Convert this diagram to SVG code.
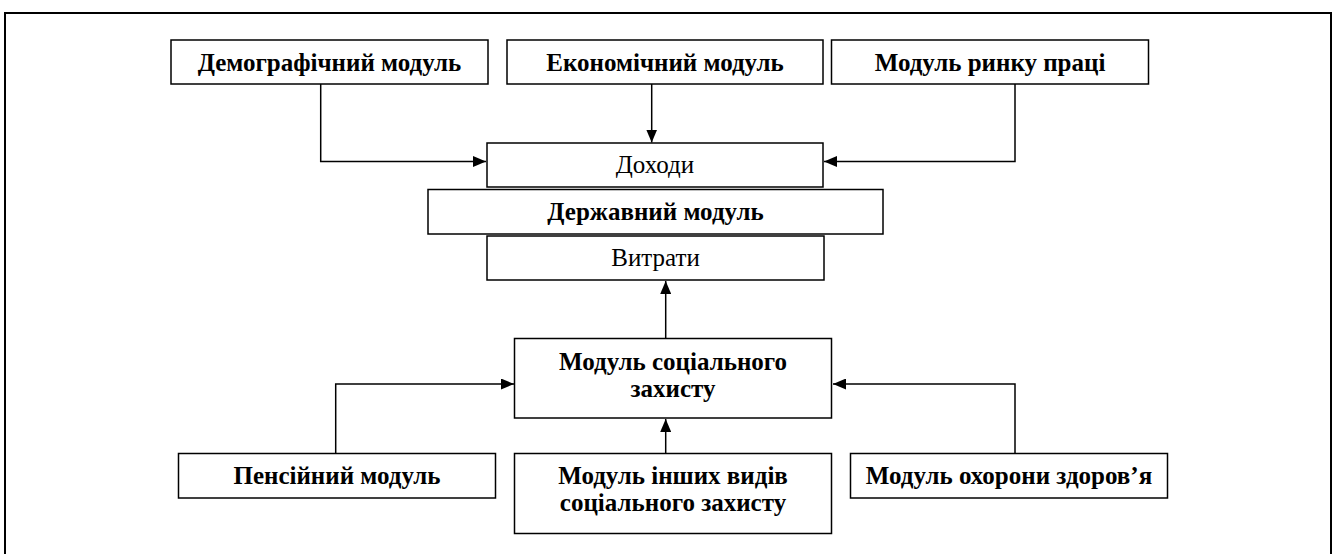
<svg xmlns="http://www.w3.org/2000/svg" width="1336" height="554" viewBox="0 0 1336 554">
<style>
.box{fill:#fff;stroke:#000;stroke-width:1.5}
.t{font-family:"Liberation Serif","Times New Roman",serif;font-size:25px;text-anchor:middle;fill:#000}
.b{font-weight:bold}
.c{fill:none;stroke:#000;stroke-width:1.5}
</style>
<defs>
<marker id="ah" markerUnits="userSpaceOnUse" markerWidth="13" markerHeight="11" refX="13" refY="5.5" orient="auto">
<path d="M0,0 L13,5.5 L0,11 z" fill="#000"/>
</marker>
</defs>
<rect width="1336" height="554" fill="#fff"/>
<rect x="5" y="13" width="1326" height="580" fill="none" stroke="#000" stroke-width="2"/>
<g id="connectors">
<path class="c" d="M320.7,84 V161.5 H486" marker-end="url(#ah)"/>
<path class="c" d="M651.7,84 V142.5" marker-end="url(#ah)"/>
<path class="c" d="M1015,84 V161.5 H824" marker-end="url(#ah)"/>
<path class="c" d="M665.7,338 V281" marker-end="url(#ah)"/>
<path class="c" d="M335.7,453 V384 H514" marker-end="url(#ah)"/>
<path class="c" d="M665.7,453 V419" marker-end="url(#ah)"/>
<path class="c" d="M1015,453 V384 H833" marker-end="url(#ah)"/>
</g>
<g id="demographic"><rect class="box" x="171" y="40" width="317" height="44"/><text class="t b" x="329.5" y="71">Демографічний модуль</text></g>
<g id="economic"><rect class="box" x="507" y="40" width="316" height="44"/><text class="t b" x="665" y="71">Економічний модуль</text></g>
<g id="labor"><rect class="box" x="831.5" y="40" width="317" height="44"/><text class="t b" x="990" y="71">Модуль ринку праці</text></g>
<g id="income"><rect class="box" x="487" y="143" width="336" height="44"/><text class="t" x="655" y="173">Доходи</text></g>
<g id="state"><rect class="box" x="428" y="189.5" width="455" height="44.5"/><text class="t b" x="655.5" y="220">Державний модуль</text></g>
<g id="expenses"><rect class="box" x="487" y="236" width="337" height="44"/><text class="t" x="655.5" y="266">Витрати</text></g>
<g id="social"><rect class="box" x="514.5" y="338.5" width="317" height="79.5"/><text class="t b" x="673" y="370">Модуль соціального</text><text class="t b" x="673" y="397">захисту</text></g>
<g id="pension"><rect class="box" x="178.5" y="453.5" width="317" height="44.5"/><text class="t b" x="337" y="484">Пенсійний модуль</text></g>
<g id="other"><rect class="box" x="514.5" y="453.5" width="317" height="80"/><text class="t b" x="673" y="484">Модуль інших видів</text><text class="t b" x="673" y="511">соціального захисту</text></g>
<g id="health"><rect class="box" x="850.5" y="453.5" width="317" height="44.5"/><text class="t b" x="1009" y="484">Модуль охорони здоров’я</text></g>
</svg>
